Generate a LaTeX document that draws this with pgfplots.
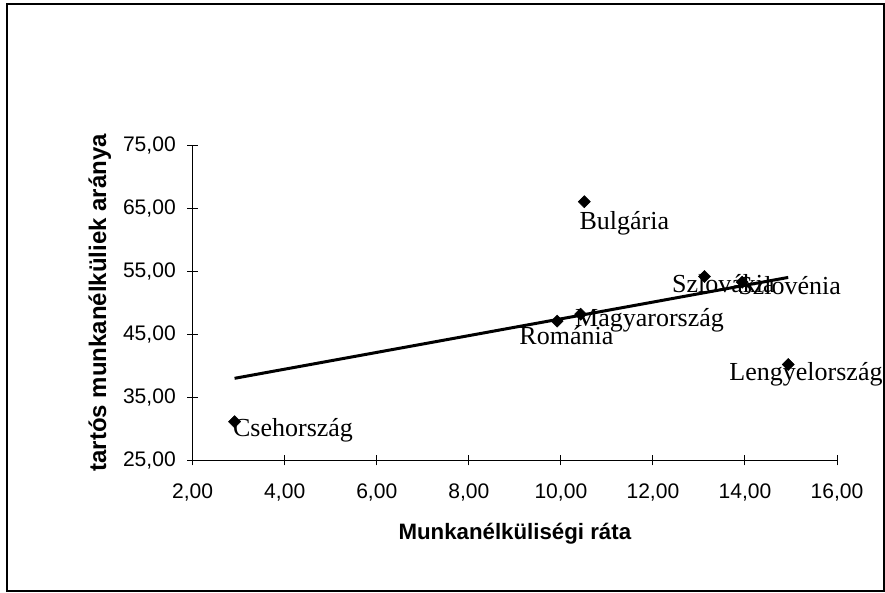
\documentclass[border=0pt]{standalone}
\usepackage{fontspec}
\setmainfont{Liberation Sans}
\newfontfamily\labelserif{Liberation Serif}
\usepackage{pgfplots}
\usepackage{pgfplotstable}
\pgfplotsset{compat=1.18}

% country, x = unemployment rate, y = share of long-term unemployed
% dx, dy = label offset from the marker (pt)
\pgfplotstableread{
x      y     dx     dy      label
2.91   31.1  -1.3   -11.25  Csehország
10.51  66.1  -3.75  -21.2   Bulgária
13.12  54.2  -24.5  -12.0   Szlovákia
13.94  53.3  -3.0   -9.0    Szlovénia
10.43  48.2  -4.3   -9.5    Magyarország
9.92   47.1  -28.5  -17.5   Románia
14.94  40.2  -44.25 -11.8   Lengyelország
}\pts

\begin{document}
\begin{tikzpicture}
	% picture size and chart area frame
	\path[use as bounding box] (-144.5pt,-99pt) rectangle (519.2pt,345pt);
	\draw[black, line width=1.5pt] (-139.3pt,-98.25pt) rectangle (518.5pt,342pt);

	\begin{axis}[
	at={(0,0)}, anchor=south west,
	scale only axis,
	width=483.2pt, height=235.7pt,
	xmin=2, xmax=16, ymin=25, ymax=75,
	xtick={2,4,...,16},
	ytick={25,35,...,75},
	axis lines*=left,
	axis line style={black, line width=0.75pt},
	tick style={black, line width=0.75pt},
	tick align=center,
	major tick length=8pt,
	clip=false,
	xticklabel style={font=\fontsize{15.8}{18}\selectfont, anchor=north, inner sep=0pt, yshift=-13.5pt},
	yticklabel style={font=\fontsize{15.8}{18}\selectfont, anchor=east, inner sep=0pt, xshift=-8.5pt},
	/pgf/number format/.cd, fixed, fixed zerofill, precision=2, use comma, assume math mode=true,
	/pgfplots/.cd,
	xlabel={Munkanélküliségi ráta},
	ylabel={tartós munkanélküliek aránya},
	every axis x label/.style={at={(axis description cs:0.5,0)}, anchor=base, yshift=-59.5pt, font=\bfseries\fontsize{16.7}{19}\selectfont},
	every axis y label/.style={at={(axis description cs:0,0.5)}, xshift=-65pt, rotate=90, anchor=base, font=\bfseries\fontsize{18}{20}\selectfont},
	]

	\addplot[only marks, mark=square*, mark options={rotate=45, fill=black, draw=black}, mark size=3.2pt,
		nodes near coords, point meta=explicit symbolic,
		visualization depends on={\thisrow{dx}\as\dx},
		visualization depends on={\thisrow{dy}\as\dy},
		every node near coord/.append style={anchor=base west, inner sep=0pt,
			xshift=\dx pt, yshift=\dy pt, font=\labelserif\fontsize{19.5}{21}\selectfont}]
		table[x=x, y=y, meta=label] {\pts};

	% linear trend line
	\addplot[black, line width=2.25pt, no marks] coordinates {(2.91,38.0) (14.94,54.05)};
	\end{axis}
\end{tikzpicture}
\end{document}
